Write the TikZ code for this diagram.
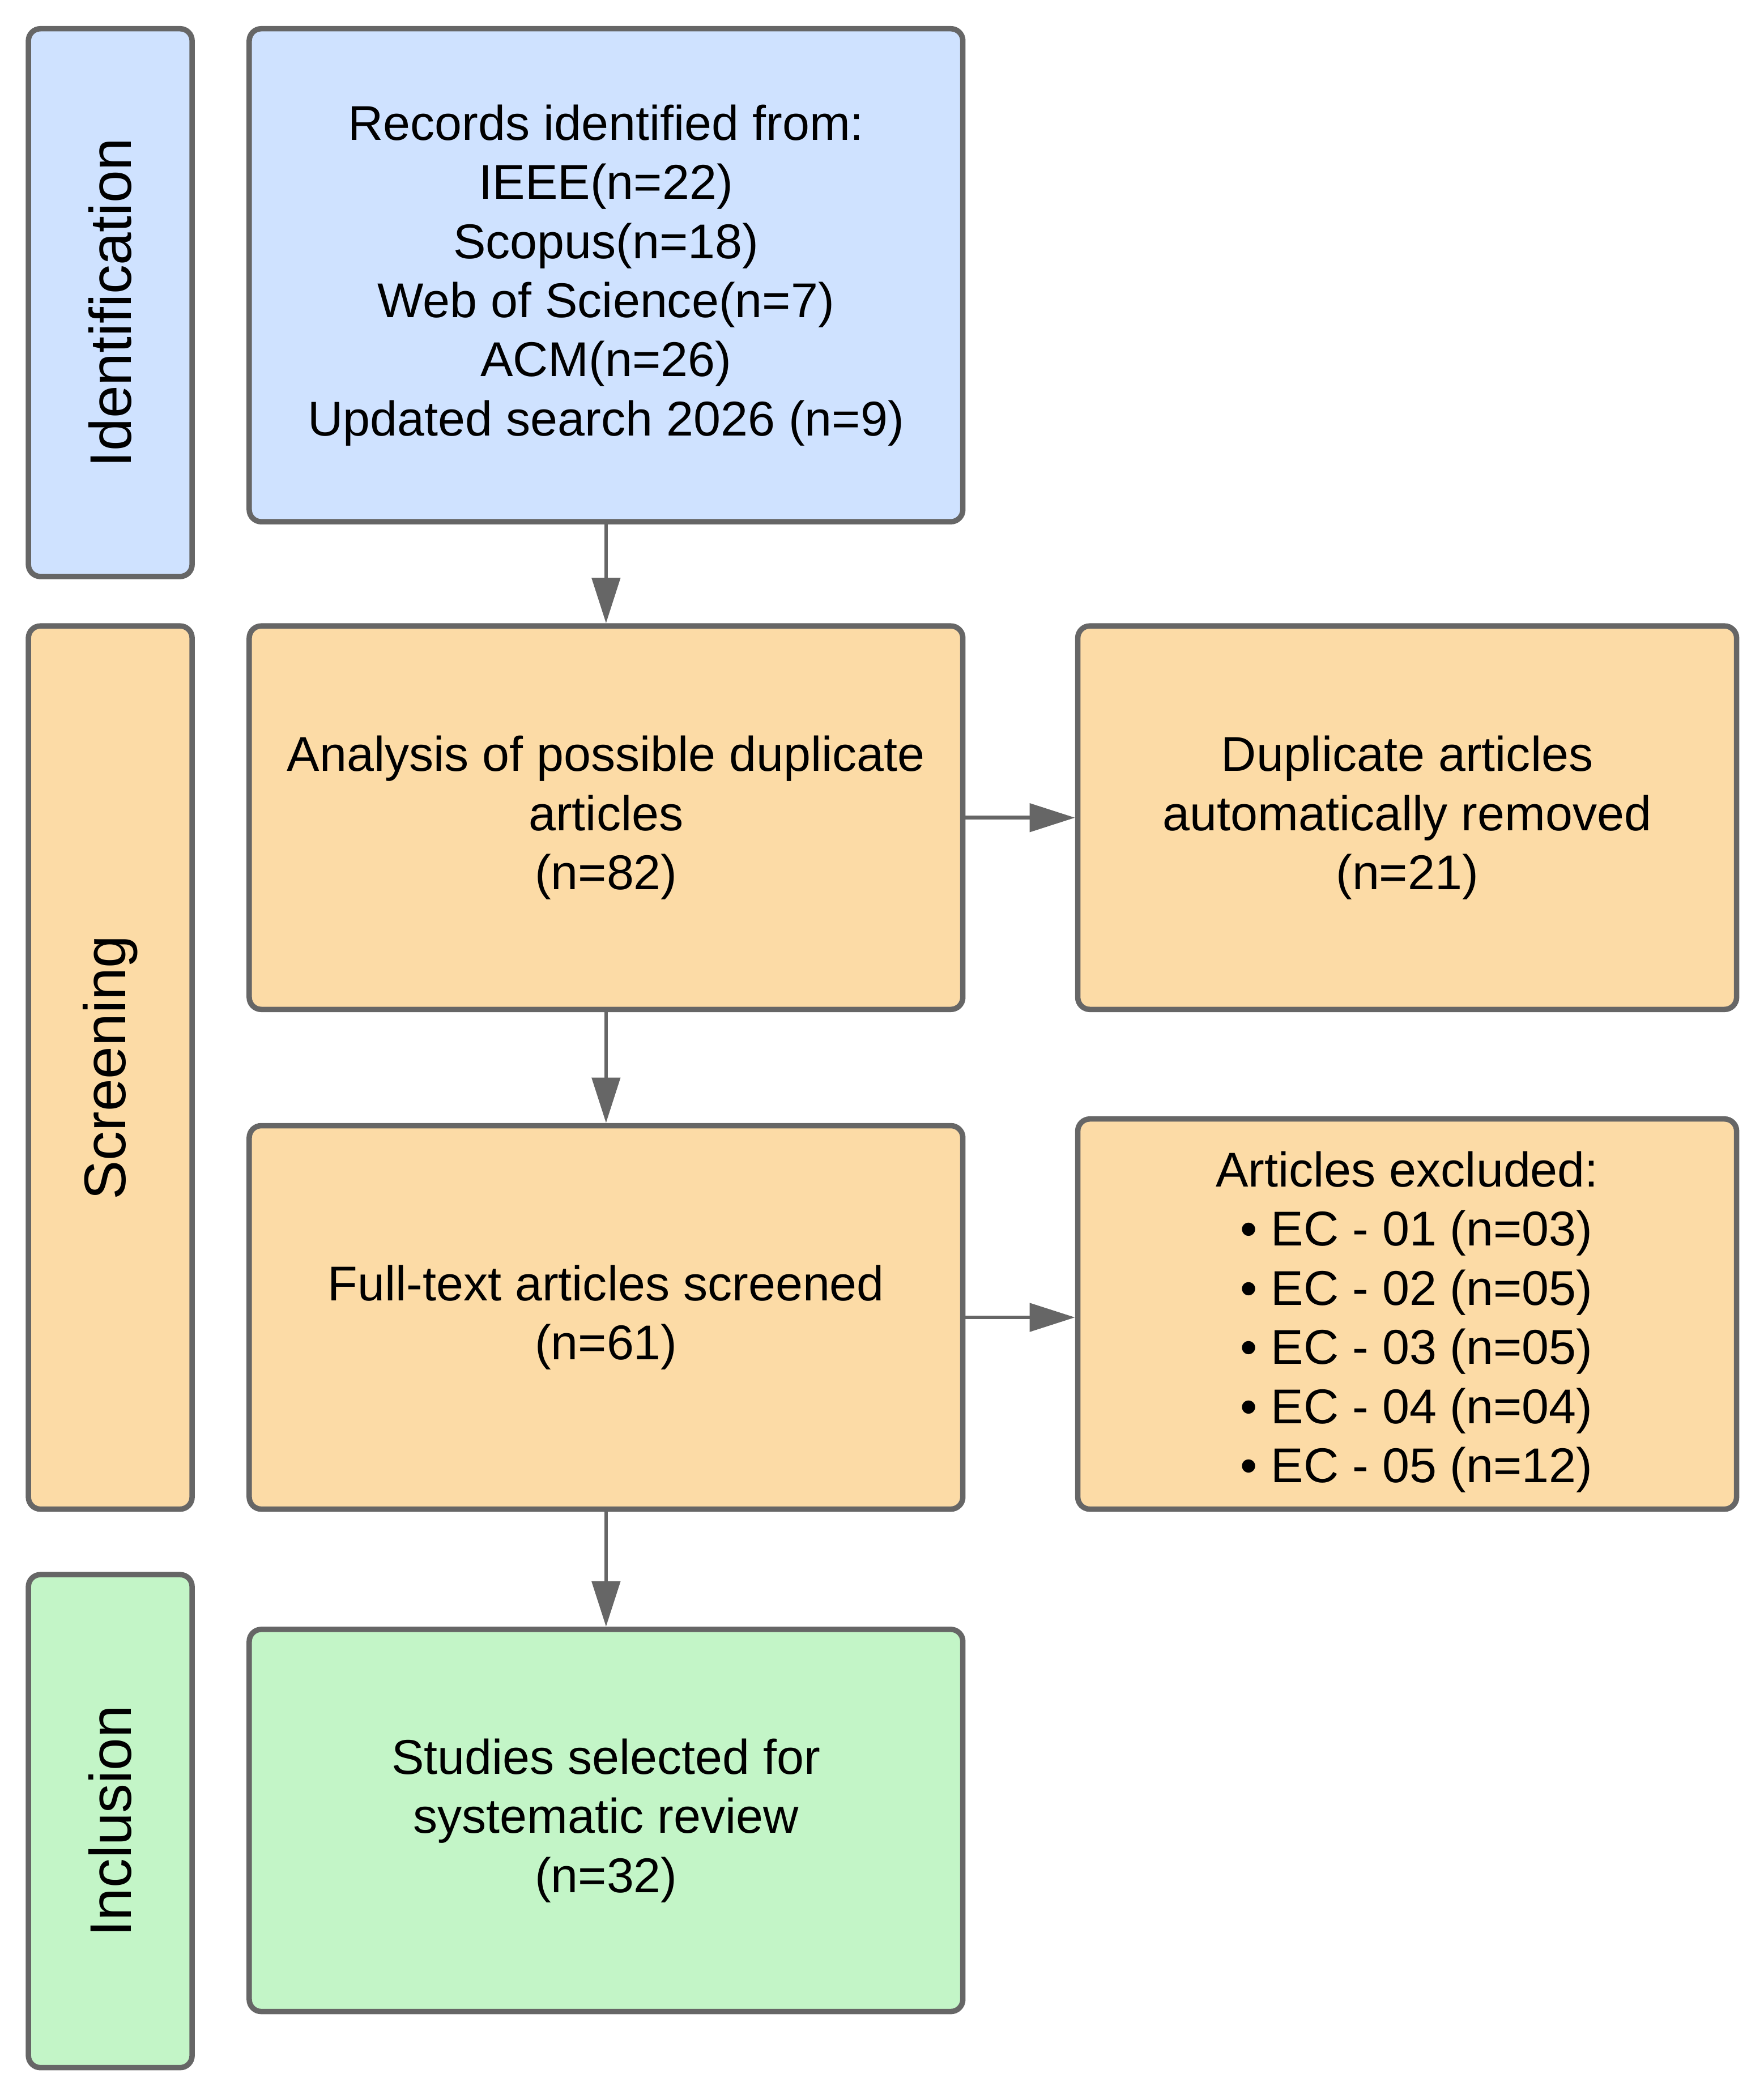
\documentclass[tikz,border=0pt]{standalone}
\usepackage{fontspec}
\setmainfont{Liberation Sans}
\usetikzlibrary{positioning,arrows.meta}
\definecolor{idblue}{RGB}{207,226,255}
\definecolor{scrorange}{RGB}{252,219,166}
\definecolor{incgreen}{RGB}{195,245,199}
\definecolor{linegray}{RGB}{102,102,102}
\tikzset{
  stagebox/.style={draw=linegray, line width=2.3pt, rounded corners=0.18cm, align=center,
    inner sep=0pt, font=\fontsize{20.8}{25.2}\selectfont},
  phase/.style={stagebox, minimum width=2.45cm, font=\fontsize{25}{30}\selectfont},
  flow/.style={draw=linegray, line width=1.6pt, -{Triangle[length=0.68cm, width=0.42cm]}}
}
\newcommand{\ecitem}{\hspace*{0.28cm}• }

\begin{document}
\begin{tikzpicture}[x=1cm, y=1cm]
\useasboundingbox (0,0) rectangle (26.4,-31.36);
% phase labels
\node[phase, fill=idblue, minimum height=8.2cm] (ident) at (1.65,-4.53) {};
\node[rotate=90, font=\fontsize{25}{30}\selectfont] at (ident.center) {Identification};
\node[phase, fill=scrorange, minimum height=13.22cm] (screen) at (1.65,-15.98) {};
\node[rotate=90, font=\fontsize{25}{30}\selectfont] at (screen.center) {Screening};
\node[phase, fill=incgreen, minimum height=7.38cm] (incl) at (1.65,-27.26) {};
\node[rotate=90, font=\fontsize{25}{30}\selectfont] at (incl.center) {Inclusion};
% main boxes
\node[stagebox, fill=idblue, minimum width=10.68cm, minimum height=7.38cm] (records) at (9.07,-4.12)
  {Records identified from:\\IEEE(n=22)\\Scopus(n=18)\\Web of Science(n=7)\\ACM(n=26)\\Updated search 2026 (n=9)};
\node[stagebox, fill=scrorange, minimum width=10.68cm, minimum height=5.74cm] (dupcheck) at (9.07,-12.24)
  {Analysis of possible duplicate\\articles\\(n=82)};
\node[stagebox, fill=scrorange, minimum width=9.86cm, minimum height=5.74cm] (dupremoved) at (21.06,-12.24)
  {Duplicate articles\\automatically removed\\(n=21)};
\node[stagebox, fill=scrorange, minimum width=10.68cm, minimum height=5.74cm] (fulltext) at (9.07,-19.72)
  {Full-text articles screened\\(n=61)};
\node[stagebox, fill=scrorange, minimum width=9.86cm, minimum height=5.84cm] (excluded) at (21.06,-19.67)
  {\rule{0pt}{0.77cm}Articles excluded:\\\ecitem EC - 01 (n=03)\\\ecitem EC - 02 (n=05)\\\ecitem EC - 03 (n=05)\\\ecitem EC - 04 (n=04)\\\ecitem EC - 05 (n=12)};
\node[stagebox, fill=incgreen, minimum width=10.68cm, minimum height=5.72cm] (selected) at (9.07,-27.25)
  {Studies selected for\\systematic review\\(n=32)};
% arrows
\draw[flow] (records) -- (dupcheck);
\draw[flow] (dupcheck) -- (dupremoved);
\draw[flow] (dupcheck) -- (fulltext);
\draw[flow] (fulltext.east) -- (fulltext.east -| excluded.west);
\draw[flow] (fulltext) -- (selected);
\end{tikzpicture}
\end{document}
